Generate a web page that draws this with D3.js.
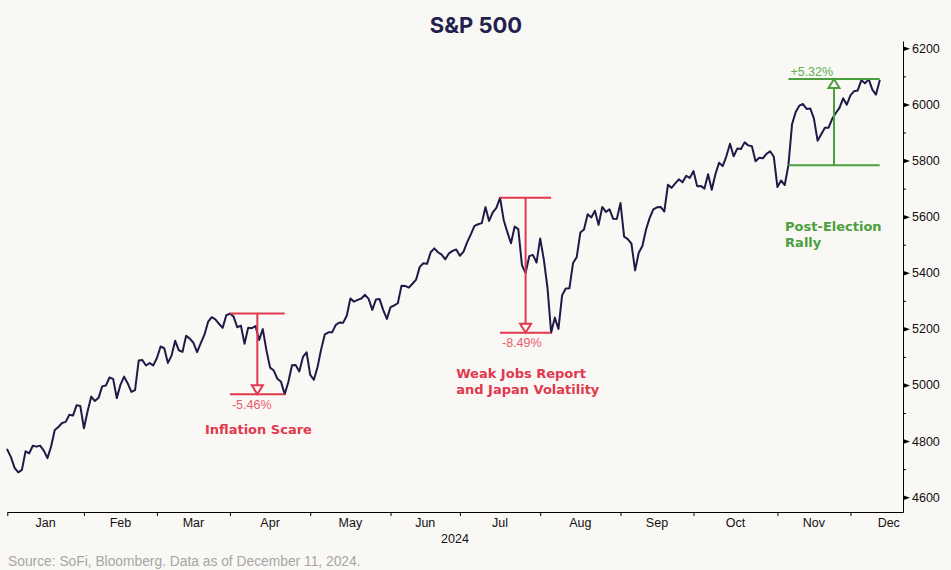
<!DOCTYPE html>
<html>
<head>
<meta charset="utf-8">
<script src="https://cdn.jsdelivr.net/npm/d3@7/dist/d3.min.js"></script>
<style>
  html, body { margin: 0; padding: 0; background: #f9f8f4; }
  svg { display: block; }
</style>
</head>
<body>
<svg id="chart" width="951" height="570"></svg>
<script>
// S&P 500 daily closes, Dec 29 2023 .. Dec 11 2024 (one value per trading day)
const closes = [
  4769.83,
  // Jan
  4742.83,4704.81,4688.68,4697.24,4763.54,4756.50,4783.45,4780.24,4783.83,4765.98,4739.21,4780.94,4839.81,4850.43,4864.60,4868.55,4894.16,4890.97,4927.93,4924.97,4845.65,
  // Feb
  4906.19,4958.61,4942.81,4954.23,4995.06,4997.91,5026.61,5021.84,4953.17,5000.62,5029.73,5005.57,4975.51,4981.80,5087.03,5088.80,5069.53,5078.18,5069.76,5096.27,
  // Mar
  5137.08,5130.95,5078.65,5104.76,5157.36,5123.69,5117.94,5175.27,5165.31,5150.48,5117.09,5149.42,5178.51,5224.62,5241.53,5234.18,5218.19,5203.58,5248.49,5254.35,
  // Apr
  5243.77,5205.81,5211.49,5147.21,5204.34,5202.39,5209.91,5160.64,5199.06,5123.41,5061.82,5051.41,5022.21,5011.12,4967.23,5010.60,5070.55,5071.63,5048.42,5099.96,5116.17,5035.69,
  // May
  5018.39,5064.20,5127.79,5180.74,5187.70,5187.67,5214.08,5222.68,5221.42,5246.68,5308.15,5297.10,5303.27,5308.13,5321.41,5307.01,5267.84,5304.72,5306.04,5266.95,5235.48,5277.51,
  // Jun
  5283.40,5291.34,5354.03,5352.96,5346.99,5360.79,5375.32,5421.03,5433.74,5431.60,5473.23,5487.03,5473.17,5464.62,5447.87,5469.30,5477.90,5482.87,5460.48,
  // Jul
  5475.09,5509.01,5537.02,5567.19,5572.85,5576.98,5633.91,5584.54,5615.35,5631.22,5667.20,5588.27,5544.59,5505.00,5564.41,5555.74,5427.13,5399.22,5459.10,5463.54,5436.44,5522.30,
  // Aug
  5446.68,5346.56,5186.33,5240.03,5199.50,5319.31,5344.16,5344.39,5434.43,5455.21,5543.22,5554.25,5608.25,5597.12,5620.85,5570.64,5634.61,5616.84,5625.80,5592.18,5591.96,5648.40,
  // Sep
  5528.93,5520.07,5503.41,5408.42,5471.05,5495.52,5554.13,5595.76,5626.02,5633.09,5634.58,5618.26,5713.64,5702.55,5718.57,5732.93,5722.26,5745.37,5738.17,5762.48,
  // Oct
  5708.75,5709.54,5699.94,5751.07,5695.94,5751.13,5792.04,5780.05,5815.03,5859.85,5815.26,5842.47,5841.47,5864.67,5853.98,5851.20,5797.42,5809.86,5808.12,5823.52,5832.92,5813.67,5705.45,
  // Nov
  5728.80,5712.69,5782.76,5929.04,5973.10,5995.54,6001.35,5983.99,5985.38,5949.17,5870.62,5893.62,5916.98,5917.11,5948.71,5969.34,5987.37,6021.63,5998.74,6032.38,
  // Dec
  6047.15,6049.88,6086.49,6075.11,6090.27,6052.85,6034.91,6084.19
];

const monthLabels = ["Jan","Feb","Mar","Apr","May","Jun","Jul","Aug","Sep","Oct","Nov","Dec"];
// trading days in each month of 2024
const monthDays = [21,20,20,22,22,19,22,22,20,23,20,21];
const yMajorTicks = [4600,4800,5000,5200,5400,5600,5800,6000,6200];
const yMinorTicks = [4700,4900,5100,5300,5500,5700,5900,6100];
const yearLabel = "2024";

// annotated moves: index of start, index of extreme, index where bracket ends
const moves = [
  { from: 61,  extreme: 76,  to: 76,  pct: "-5.46%", label: ["Inflation Scare"], kind: "down",
    labelAt: [68.8, 4825], anchor: "middle" },
  { from: 135, extreme: 149, to: 149, pct: "-8.49%", label: ["Weak Jobs Report", "and Japan Volatility"], kind: "down",
    labelAt: [123, 5025], anchor: "start" },
  { from: 214, extreme: 236, to: 239, pct: "+5.32%", label: ["Post-Election", "Rally"], kind: "up",
    labelAt: [213.1, 5550], anchor: "start" }
];

const W = 951, H = 570;
const BG = "#f9f8f4";
const LINE = "#1f1a47";
const RED = "#e0394f", RED_LIGHT = "#ea5b6e";
const GREEN = "#4b9f3e", GREEN_LIGHT = "#62b152";
const AXIS_FONT = "'Liberation Sans', Arial, sans-serif";

const svg = d3.select("#chart");
svg.append("rect").attr("width", W).attr("height", H).attr("fill", BG);

const x = d3.scaleLinear().domain([0, 245.4]).range([7.3, 903]);
const y = d3.scaleLinear().domain([4547.3, 6226]).range([512, 41]);

// title
svg.append("text").attr("x", 476).attr("y", 33).attr("text-anchor", "middle")
  .attr("font-family", "Inter, 'Open Sans', sans-serif").attr("font-weight", 700)
  .attr("font-size", 22).attr("fill", "#231f4f").text("S&P 500");

// month tick positions (last trading day of previous month)
const monthStarts = [];
let acc = 0;
monthDays.forEach(d => { monthStarts.push(acc); acc += d; });

// x axis
const xAxis = d3.axisBottom(x).tickValues(monthStarts).tickFormat("").tickSizeInner(4).tickSizeOuter(0);
const gx = svg.append("g").attr("transform", "translate(0,512)").call(xAxis);
gx.selectAll("path, line").attr("stroke", "#000").attr("stroke-width", 1);

svg.append("g").selectAll("text").data(monthLabels).join("text")
  .attr("x", (d, i) => x(monthStarts[i] + monthDays[i] / 2))
  .attr("y", 527).attr("text-anchor", "middle")
  .attr("font-family", AXIS_FONT).attr("font-size", 12.5).attr("fill", "#111")
  .text(d => d);

svg.append("text").attr("x", 455).attr("y", 543).attr("text-anchor", "middle")
  .attr("font-family", AXIS_FONT).attr("font-size", 12.5).attr("fill", "#111").text(yearLabel);

// y axis on right
const yAxis = d3.axisRight(y).tickValues(yMajorTicks).tickFormat(d3.format("d"))
  .tickSize(0).tickPadding(9).tickSizeOuter(0);
const gy = svg.append("g").attr("transform", "translate(903,0)").call(yAxis);
gy.select("path").attr("stroke", "#000");
gy.selectAll("text").attr("font-family", AXIS_FONT).attr("font-size", 12.5).attr("fill", "#111");
gy.selectAll("g.tick").append("path").attr("d", "M0,-2.5L7,0L0,2.5Z").attr("fill", "#000");

const yMinor = d3.axisRight(y).tickValues(yMinorTicks).tickSize(3).tickFormat("");
const gym = svg.append("g").attr("transform", "translate(903,0)").call(yMinor);
gym.select("path").remove();
gym.selectAll("line").attr("stroke", "#000");

// price line
const line = d3.line().x((d, i) => x(i)).y(d => y(d));
svg.append("path").datum(closes).attr("d", line)
  .attr("fill", "none").attr("stroke", LINE).attr("stroke-width", 2)
  .attr("stroke-linejoin", "round").attr("stroke-linecap", "round");

// annotations
moves.forEach(m => {
  const col = m.kind === "down" ? RED : GREEN;
  const colLight = m.kind === "down" ? RED_LIGHT : GREEN_LIGHT;
  const x0 = x(m.from), x1 = x(m.to);
  const yStart = y(closes[m.from]), yEnd = y(closes[m.extreme]);
  const mx = (x0 + x1) / 2;
  const g = svg.append("g");
  [yStart, yEnd].forEach(yy => {
    g.append("line").attr("x1", x0).attr("x2", x1).attr("y1", yy).attr("y2", yy)
      .attr("stroke", col).attr("stroke-width", 2);
  });
  const dir = yEnd > yStart ? 1 : -1; // 1 = arrow points down
  const th = 9, tw = 5.5;
  g.append("line").attr("x1", mx).attr("x2", mx).attr("y1", yStart).attr("y2", yEnd - dir * th)
    .attr("stroke", col).attr("stroke-width", 2);
  g.append("path")
    .attr("d", `M${mx - tw},${yEnd - dir * th}L${mx + tw},${yEnd - dir * th}L${mx},${yEnd}Z`)
    .attr("fill", BG).attr("stroke", col).attr("stroke-width", 2).attr("stroke-linejoin", "miter");

  const pctY = m.kind === "down" ? yEnd + 14.5 : yEnd - 3;
  g.append("text").attr("x", x0 + 2).attr("y", pctY)
    .attr("font-family", AXIS_FONT).attr("font-size", 12.5).attr("fill", colLight).text(m.pct);

  const lt = g.append("text").attr("x", x(m.labelAt[0])).attr("y", y(m.labelAt[1]))
    .attr("text-anchor", m.anchor)
    .attr("font-family", "'DejaVu Sans', sans-serif").attr("font-weight", 700)
    .attr("font-size", 13).attr("fill", col);
  m.label.forEach((s, i) => {
    lt.append("tspan").attr("x", x(m.labelAt[0])).attr("dy", i === 0 ? 0 : 16).text(s);
  });
});

// source
svg.append("text").attr("x", 8).attr("y", 566)
  .attr("font-family", AXIS_FONT).attr("font-size", 13.8).attr("fill", "#a6a6a6")
  .text("Source: SoFi, Bloomberg. Data as of December 11, 2024.");
</script>
</body>
</html>
